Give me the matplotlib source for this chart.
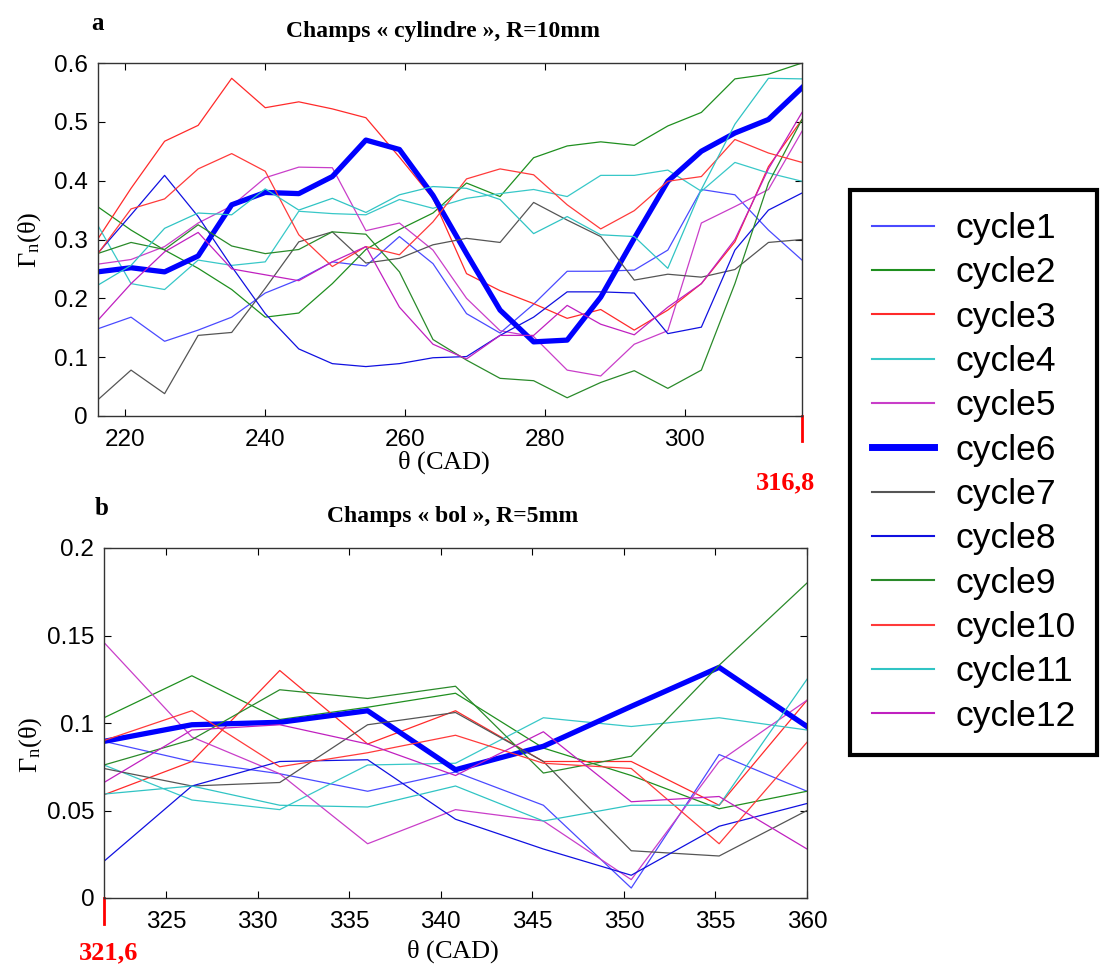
import numpy as np
import matplotlib
matplotlib.use("Agg")
import matplotlib.pyplot as plt
from matplotlib.lines import Line2D

plt.rcParams["font.family"] = ["Liberation Sans", "DejaVu Sans"]
plt.rcParams["mathtext.fontset"] = "custom"
plt.rcParams["mathtext.rm"] = "Liberation Serif"
plt.rcParams["mathtext.it"] = "Liberation Serif"

# crank angles (CAD) of the samples
theta_a = [216.0, 220.8, 225.6, 230.4, 235.2, 240.0, 244.8, 249.6, 254.4, 259.2, 264.0,
           268.8, 273.6, 278.4, 283.2, 288.0, 292.8, 297.6, 302.4, 307.2, 312.0, 316.8]
theta_b = [321.6, 326.4, 331.2, 336.0, 340.8, 345.6, 350.4, 355.2, 360.0]

labels = ["cycle%d" % i for i in range(1, 13)]
colors = ["#4a4aff", "#1f8f1f", "#ff2a2a", "#38c8c8", "#c93ec9", "#0000ff",
          "#555555", "#1010e0", "#2a8a2a", "#ff3a3a", "#30c4c4", "#c020c0"]

# field "cylindre", R=10mm
cyl = [
    [0.148, 0.168, 0.127, 0.146, 0.168, 0.209, 0.232, 0.262, 0.255, 0.305, 0.259,
     0.174, 0.141, 0.190, 0.246, 0.246, 0.248, 0.282, 0.385, 0.376, 0.316, 0.265],
    [0.356, 0.316, 0.282, 0.251, 0.215, 0.168, 0.175, 0.225, 0.283, 0.317, 0.345,
     0.396, 0.373, 0.439, 0.459, 0.466, 0.460, 0.493, 0.516, 0.573, 0.581, 0.600],
    [0.300, 0.387, 0.467, 0.494, 0.574, 0.524, 0.534, 0.522, 0.507, 0.440, 0.370,
     0.242, 0.213, 0.191, 0.166, 0.181, 0.146, 0.180, 0.225, 0.296, 0.424, 0.504],
    [0.325, 0.225, 0.215, 0.265, 0.256, 0.262, 0.348, 0.344, 0.342, 0.368, 0.353,
     0.370, 0.378, 0.385, 0.373, 0.409, 0.409, 0.418, 0.382, 0.431, 0.413, 0.399],
    [0.258, 0.266, 0.288, 0.328, 0.357, 0.405, 0.423, 0.422, 0.315, 0.328, 0.282,
     0.200, 0.145, 0.135, 0.078, 0.068, 0.122, 0.145, 0.328, 0.356, 0.385, 0.484],
    [0.245, 0.252, 0.245, 0.272, 0.359, 0.380, 0.378, 0.407, 0.469, 0.453, 0.375,
     0.276, 0.180, 0.126, 0.129, 0.202, 0.302, 0.399, 0.450, 0.481, 0.504, 0.558],
    [0.027, 0.078, 0.038, 0.137, 0.142, 0.217, 0.296, 0.313, 0.260, 0.268, 0.291,
     0.302, 0.295, 0.363, 0.333, 0.305, 0.231, 0.241, 0.236, 0.249, 0.295, 0.300],
    [0.276, 0.342, 0.409, 0.339, 0.254, 0.174, 0.114, 0.089, 0.084, 0.089, 0.099,
     0.101, 0.137, 0.168, 0.211, 0.211, 0.209, 0.140, 0.151, 0.282, 0.350, 0.379],
    [0.276, 0.295, 0.283, 0.325, 0.289, 0.276, 0.283, 0.313, 0.309, 0.245, 0.130,
     0.095, 0.064, 0.060, 0.031, 0.057, 0.077, 0.047, 0.078, 0.225, 0.396, 0.504],
    [0.275, 0.352, 0.369, 0.420, 0.446, 0.416, 0.308, 0.254, 0.288, 0.274, 0.330,
     0.403, 0.420, 0.410, 0.359, 0.318, 0.349, 0.399, 0.407, 0.470, 0.447, 0.431],
    [0.222, 0.256, 0.319, 0.345, 0.342, 0.386, 0.350, 0.370, 0.346, 0.376, 0.390,
     0.387, 0.368, 0.310, 0.339, 0.308, 0.305, 0.251, 0.385, 0.496, 0.574, 0.573],
    [0.162, 0.225, 0.279, 0.312, 0.250, 0.240, 0.230, 0.262, 0.288, 0.185, 0.122,
     0.097, 0.137, 0.137, 0.188, 0.156, 0.138, 0.185, 0.225, 0.300, 0.420, 0.516],
]

# field "bol", R=5mm
bol = [
    [0.0895, 0.078, 0.071, 0.061, 0.072, 0.053, 0.0057, 0.082, 0.061],
    [0.103, 0.127, 0.102, 0.109, 0.117, 0.0857, 0.070, 0.051, 0.061],
    [0.059, 0.078, 0.130, 0.088, 0.107, 0.078, 0.078, 0.053, 0.113],
    [0.076, 0.056, 0.0505, 0.076, 0.077, 0.103, 0.098, 0.103, 0.096],
    [0.146, 0.092, 0.071, 0.031, 0.0505, 0.044, 0.0105, 0.078, 0.113],
    [0.0895, 0.099, 0.1004, 0.107, 0.0733, 0.0867, 0.1095, 0.1318, 0.098],
    [0.074, 0.064, 0.066, 0.099, 0.106, 0.078, 0.027, 0.024, 0.050],
    [0.021, 0.064, 0.078, 0.079, 0.045, 0.028, 0.013, 0.041, 0.054],
    [0.076, 0.0905, 0.119, 0.114, 0.121, 0.0714, 0.081, 0.133, 0.180],
    [0.090, 0.107, 0.075, 0.083, 0.093, 0.077, 0.074, 0.031, 0.089],
    [0.0594, 0.064, 0.053, 0.052, 0.064, 0.044, 0.053, 0.053, 0.125],
    [0.066, 0.096, 0.099, 0.088, 0.070, 0.095, 0.055, 0.058, 0.028],
]

W, H = 1103, 967
fig = plt.figure(figsize=(W / 100, H / 100), dpi=100)
ax1 = fig.add_axes([97.5 / W, 1 - 416 / H, 704.5 / W, 353 / H])
ax2 = fig.add_axes([104 / W, 1 - 898 / H, 703 / W, 350 / H])

serif = "Liberation Serif"


def style(ax):
    ax.tick_params(direction="in", top=True, right=True, length=5, width=0.8,
                   labelsize=17.5, pad=7)
    ax.tick_params(axis="x", pad=9)
    for s in ax.spines.values():
        s.set_color("#333333")
        s.set_linewidth(1.0)


# plot a
for i in range(12):
    lw = 3.8 if i == 5 else 0.9
    ax1.plot(theta_a, cyl[i], color=colors[i], lw=lw)
ax1.set_xlim(216.0, 316.8)
ax1.set_ylim(0, 0.6)
ax1.set_xticks([220, 240, 260, 280, 300])
ax1.set_yticks([0, 0.1, 0.2, 0.3, 0.4, 0.5, 0.6])
ax1.set_yticklabels(["0", "0.1", "0.2", "0.3", "0.4", "0.5", "0.6"])
style(ax1)
ax1.set_xlabel(r"$\theta\ \mathrm{(CAD)}$", fontsize=19)
ax1.xaxis.set_label_coords(0.492, -0.133)
ax1.xaxis.label.set_va("center")
ax1.set_ylabel(r"$\Gamma_{\mathrm{n}}(\theta)$", fontsize=19)
ax1.yaxis.set_label_coords(-0.096, 0.5)
ax1.yaxis.label.set_va("center")
ax1.text(0.49, 1.088, "Champs « cylindre », R=10mm", transform=ax1.transAxes,
         ha="center", va="center", fontsize=17, fontweight="bold", family=serif)
ax1.text(0.0, 1.112, "a", transform=ax1.transAxes, ha="center", va="center",
         fontsize=18, fontweight="bold", family=serif)
ax1.plot([316.8, 316.8], [0, -0.072], transform=ax1.get_xaxis_transform(),
         color="red", lw=2, clip_on=False)
ax1.text(314.5, -0.19, "316,8", transform=ax1.get_xaxis_transform(), ha="center",
         va="center", color="red", fontsize=19, fontweight="bold", family=serif)

# plot b
for i in range(12):
    lw = 3.8 if i == 5 else 0.9
    ax2.plot(theta_b, bol[i], color=colors[i], lw=lw)
ax2.set_xlim(321.6, 360)
ax2.set_ylim(0, 0.2)
ax2.set_xticks([325, 330, 335, 340, 345, 350, 355, 360])
ax2.set_yticks([0, 0.05, 0.1, 0.15, 0.2])
ax2.set_yticklabels(["0", "0.05", "0.1", "0.15", "0.2"])
style(ax2)
ax2.set_xlabel(r"$\theta\ \mathrm{(CAD)}$", fontsize=19)
ax2.xaxis.set_label_coords(0.496, -0.154)
ax2.xaxis.label.set_va("center")
ax2.set_ylabel(r"$\Gamma_{\mathrm{n}}(\theta)$", fontsize=19)
ax2.yaxis.set_label_coords(-0.105, 0.437)
ax2.yaxis.label.set_va("center")
ax2.text(0.496, 1.09, "Champs « bol », R=5mm", transform=ax2.transAxes,
         ha="center", va="center", fontsize=17, fontweight="bold", family=serif)
ax2.text(-0.004, 1.113, "b", transform=ax2.transAxes, ha="center", va="center",
         fontsize=18, fontweight="bold", family=serif)
ax2.plot([321.6, 321.6], [0, -0.075], transform=ax2.get_xaxis_transform(),
         color="red", lw=2, clip_on=False)
ax2.text(321.85, -0.157, "321,6", transform=ax2.get_xaxis_transform(), ha="center",
         va="center", color="red", fontsize=19, fontweight="bold", family=serif)

# legend
handles = [Line2D([], [], color=colors[i], lw=(5 if i == 5 else 1.5)) for i in range(12)]
leg = fig.legend(handles, labels, loc="upper left", bbox_to_anchor=(850 / W, 1 - 190 / H),
                 fontsize=25.5, handlelength=1.75, handletextpad=0.6, labelspacing=0.32,
                 borderpad=0.62, borderaxespad=0, fancybox=False, framealpha=1)
leg.get_frame().set_edgecolor("black")
leg.get_frame().set_linewidth(3)

fig.savefig("out.png", dpi=100)
